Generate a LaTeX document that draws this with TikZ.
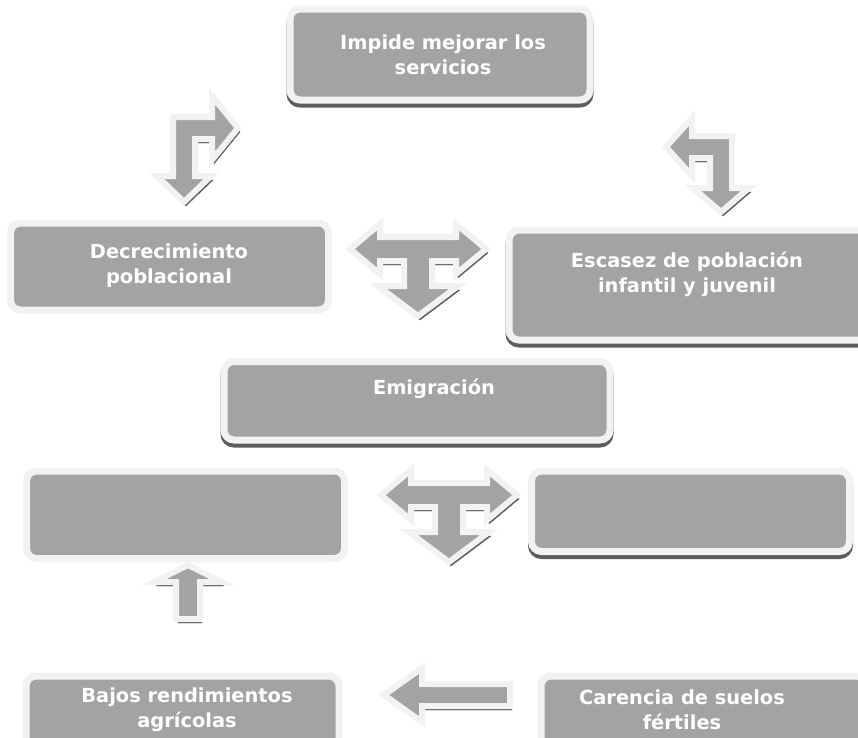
\documentclass[tikz,border=0pt]{standalone}
\usepackage{fontspec}
\setmainfont{DejaVu Sans}
\definecolor{boxgray}{HTML}{A3A3A3}
\definecolor{rimgray}{HTML}{F2F2F2}
\definecolor{shadowgray}{HTML}{5C5C5C}
\tikzset{
  panel/.style={rectangle, rounded corners=10pt, fill=boxgray, draw=rimgray, line width=7pt, inner sep=0pt},
  panelshadow/.style={panel, preaction={draw=shadowgray, fill=shadowgray, transform canvas={yshift=-4pt}}},
  boxtext/.style={text=white, align=center, font=\fontsize{19.4}{25}\selectfont\bfseries, inner sep=0pt},
  blockarrow/.style={fill=boxgray, draw=rimgray, line width=6pt, line join=miter,
    preaction={draw=shadowgray, fill=shadowgray, transform canvas={shift={(2pt,-4pt)}}}},
}
\begin{document}
\begin{tikzpicture}[x=1pt,y=-1pt]
\useasboundingbox (0,0) rectangle (858,737);
\clip (0,0) rectangle (858,737);
% boxes
\node[panelshadow, minimum width=300pt, minimum height=91pt] (imp) at (440,54.5) {};
\node[panel, minimum width=318pt, minimum height=87pt] (dec) at (169.5,266.5) {};
\node[panelshadow, minimum width=361pt, minimum height=110pt] (esc) at (689.5,285) {};
\node[panelshadow, minimum width=386pt, minimum height=78.5pt] (emi) at (417,400.75) {};
\node[panel, minimum width=318pt, minimum height=87.5pt] (lft) at (185.5,514.75) {};
\node[panelshadow, minimum width=318pt, minimum height=80.5pt] (rgt) at (690.5,511.25) {};
\node[panel, minimum width=313pt, minimum height=76pt] (baj) at (182.5,714) {};
\node[panel, minimum width=325pt, minimum height=76pt] (car) at (703.5,714) {};
% texts
\node[boxtext] (timp) at (443,55) {Impide mejorar los\\servicios};
\node[boxtext] (tdec) at (169,266) {Decrecimiento\\poblacional};
\node[boxtext] (tesc) at (687,274) {Escasez de población\\infantil y juvenil};
\node[boxtext] (temi) at (434,389) {Emigración};
\node[boxtext] (tbaj) at (187,710) {Bajos rendimientos\\agrícolas};
\node[boxtext] (tcar) at (682,710) {Carencia de suelos\\fértiles};
% arrow A (top left, bent)
\path[blockarrow] (173,117) -- (212,117) -- (212,96) -- (238,128) -- (212,160) -- (212,139)
  -- (195,139) -- (195,176) -- (211,176) -- (184,202) -- (157,176) -- (173,176) -- cycle;
% arrow B (top right, bent)
\path[blockarrow] (732,136) -- (692,136) -- (692,118) -- (666,147) -- (692,176) -- (692,158)
  -- (710,158) -- (710,188) -- (693,188) -- (721,212) -- (749,188) -- (732,188) -- cycle;
% arrow C (upper T)
\path[blockarrow] (350,249) -- (380,224) -- (380,237) -- (456,237) -- (456,224) -- (486,249)
  -- (456,274) -- (456,261) -- (432,261) -- (432,286) -- (458,286) -- (418,316) -- (378,286)
  -- (404,286) -- (404,261) -- (380,261) -- (380,274) -- cycle;
% arrow D (lower T)
\begin{scope}[shift={(31,246)}]
\path[blockarrow] (350,249) -- (380,224) -- (380,237) -- (456,237) -- (456,224) -- (486,249)
  -- (456,274) -- (456,261) -- (432,261) -- (432,286) -- (458,286) -- (418,316) -- (378,286)
  -- (404,286) -- (404,261) -- (380,261) -- (380,274) -- cycle;
\end{scope}
% arrow E (up)
\path[blockarrow] (176,619) -- (176,582) -- (154,582) -- (188,565) -- (222,582) -- (200,582)
  -- (200,619) -- cycle;
% arrow F (left)
\path[blockarrow] (510,684) -- (422,684) -- (422,668) -- (384,695) -- (422,722) -- (422,706)
  -- (510,706) -- cycle;
\end{tikzpicture}
\end{document}
